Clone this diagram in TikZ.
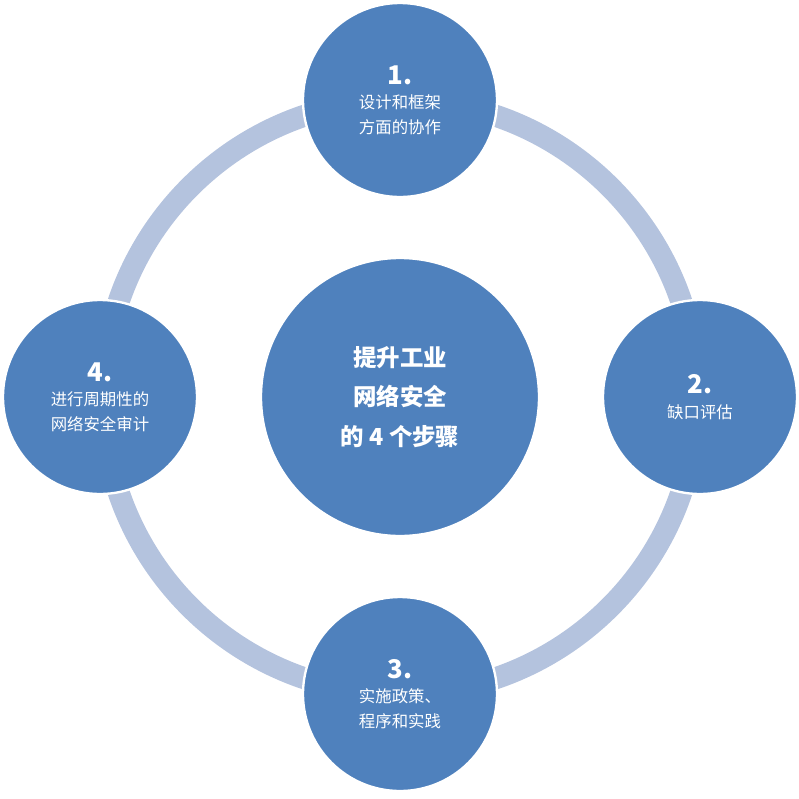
\documentclass[tikz,border=0pt]{standalone}
\usepackage{fontspec}
\setmainfont{Noto Sans CJK SC}
\definecolor{stepblue}{HTML}{4F81BD}
\definecolor{ringblue}{HTML}{B4C3DE}
\tikzset{
  stepnode/.style={circle, fill=stepblue, draw=white, line width=2pt, minimum size=194*0.03cm, text=white, align=center, font=\fontsize{14}{21}\selectfont, inner sep=0pt},
  centernode/.style={circle, fill=stepblue, draw=white, line width=2pt, minimum size=278*0.03cm, text=white, align=center, font=\bfseries\fontsize{20}{34}\selectfont},
  stepnum/.style={font=\bfseries\fontsize{22}{26}\selectfont},
}
\begin{document}
\begin{tikzpicture}[x=0.03cm, y=-0.03cm]
  \useasboundingbox (0,0) rectangle (799,798);
  % Ring
  \draw[ringblue, line width=22*0.03cm] (400,397) circle[radius=297];
  % Nodes
  \node (center) [centernode] at (400,397) {提升工业\\网络安全\\的 4 个步骤};
  \node (s1) [stepnode] at (400,100) {{\bfseries\fontsize{22}{34}\selectfont 1.}\\设计和框架\\方面的协作};
  \node (s2) [stepnode] at (700,397) {{\bfseries\fontsize{22}{34}\selectfont 2.}\\缺口评估};
  \node (s3) [stepnode] at (400,694) {{\bfseries\fontsize{22}{34}\selectfont 3.}\\实施政策、\\程序和实践};
  \node (s4) [stepnode] at (100,397) {{\bfseries\fontsize{22}{34}\selectfont 4.}\\进行周期性的\\网络安全审计};
\end{tikzpicture}
\end{document}
